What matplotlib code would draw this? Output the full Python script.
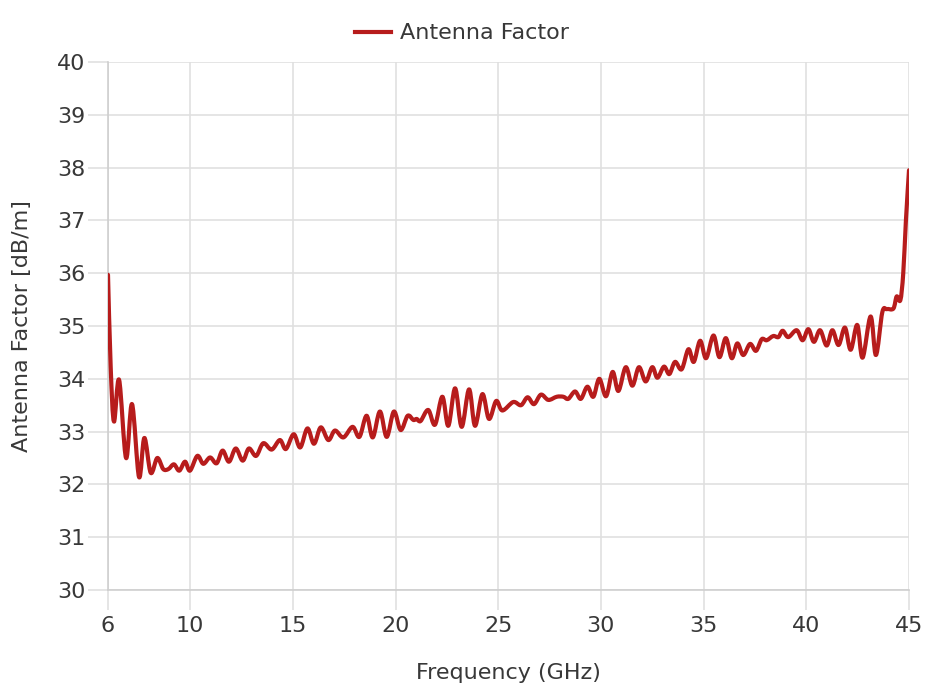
import matplotlib
matplotlib.use("Agg")
import matplotlib.pyplot as plt
from matplotlib.path import Path
from matplotlib.patches import PathPatch
from matplotlib.lines import Line2D
import numpy as np

freq_ghz = [6.0, 6.13, 6.29, 6.54, 6.88, 7.17, 7.51, 7.77, 8.08, 8.40, 8.69, 8.94,
            9.21, 9.47, 9.75, 9.99, 10.35, 10.64, 10.97, 11.29, 11.58, 11.89, 12.22,
            12.56, 12.86, 13.21, 13.56, 13.97, 14.37, 14.66, 15.04, 15.36, 15.71,
            16.03, 16.36, 16.73, 17.05, 17.46, 17.91, 18.24, 18.59, 18.89, 19.24,
            19.57, 19.92, 20.25, 20.59, 20.87, 21.03, 21.22, 21.59, 21.92, 22.28,
            22.57, 22.90, 23.22, 23.58, 23.87, 24.23, 24.55, 24.90, 25.20, 25.73,
            26.11, 26.43, 26.74, 27.08, 27.44, 27.85, 28.17, 28.41, 28.74, 29.02,
            29.34, 29.63, 29.92, 30.25, 30.57, 30.85, 31.21, 31.53, 31.85, 32.18,
            32.50, 32.75, 33.07, 33.33, 33.61, 33.93, 34.26, 34.52, 34.83, 35.12,
            35.48, 35.77, 36.08, 36.37, 36.64, 36.93, 37.26, 37.55, 37.83, 38.07,
            38.39, 38.64, 38.85, 39.12, 39.53, 39.82, 40.10, 40.37, 40.67, 40.99,
            41.27, 41.57, 41.88, 42.16, 42.48, 42.74, 43.13, 43.39, 43.70, 43.92,
            44.24, 44.40, 44.58, 44.72, 44.85, 45.0]
antenna_factor = [35.97, 34.23, 33.19, 33.98, 32.50, 33.52, 32.14, 32.88, 32.22, 32.50,
                  32.29, 32.29, 32.38, 32.26, 32.43, 32.26, 32.54, 32.39, 32.51, 32.40,
                  32.64, 32.43, 32.68, 32.45, 32.68, 32.54, 32.78, 32.66, 32.84, 32.67,
                  32.95, 32.70, 33.06, 32.77, 33.08, 32.84, 33.02, 32.89, 33.09, 32.90,
                  33.30, 32.89, 33.38, 32.90, 33.38, 33.03, 33.30, 33.22, 33.24, 33.20,
                  33.41, 33.13, 33.66, 33.11, 33.82, 33.09, 33.80, 33.11, 33.71, 33.24,
                  33.58, 33.40, 33.56, 33.50, 33.65, 33.52, 33.70, 33.60, 33.66, 33.66,
                  33.62, 33.76, 33.62, 33.85, 33.66, 34.00, 33.67, 34.13, 33.77, 34.22,
                  33.87, 34.22, 33.95, 34.22, 34.02, 34.23, 34.09, 34.32, 34.18, 34.56,
                  34.32, 34.72, 34.39, 34.82, 34.41, 34.77, 34.39, 34.67, 34.45, 34.66,
                  34.53, 34.75, 34.73, 34.81, 34.79, 34.91, 34.79, 34.92, 34.73, 34.94,
                  34.70, 34.92, 34.63, 34.92, 34.64, 34.97, 34.55, 35.02, 34.40, 35.18,
                  34.45, 35.26, 35.32, 35.33, 35.56, 35.49, 36.00, 37.00, 37.95]

x_ticks = [6, 10, 15, 20, 25, 30, 35, 40, 45]
y_ticks = [30, 31, 32, 33, 34, 35, 36, 37, 38, 39, 40]
series_name = "Antenna Factor"
x_label = "Frequency (GHz)"
y_label = "Antenna Factor [dB/m]"

LINE_COLOR = "#B71C1C"
TEXT_COLOR = "#383838"
GRID_COLOR = "#E0E0E0"
AXIS_COLOR = "#CFCFCF"
plt.rcParams['font.family'] = ['DejaVu Sans']

fig = plt.figure(figsize=(9.3, 6.96), dpi=100)
ax = fig.add_axes([108/930, 1-590/696, (909-108)/930, (590-62)/696])


def smooth_path(xs, ys, k=1.0):
    pts = np.column_stack([xs, ys]).astype(float)
    n = len(pts)
    verts = [pts[0]]
    codes = [Path.MOVETO]
    for i in range(n - 1):
        p0 = pts[i - 1] if i > 0 else pts[i]
        p1 = pts[i]
        p2 = pts[i + 1]
        p3 = pts[i + 2] if i + 2 < n else pts[i + 1]
        c1 = p1 + (p2 - p0) / 6.0 * k
        c2 = p2 - (p3 - p1) / 6.0 * k
        verts += [c1, c2, p2]
        codes += [Path.CURVE4] * 3
    return Path(verts, codes)


patch = PathPatch(smooth_path(freq_ghz, antenna_factor), facecolor='none',
                  edgecolor=LINE_COLOR, lw=3.0, capstyle='round', joinstyle='round',
                  zorder=3, clip_on=True)
ax.add_patch(patch)

ax.set_xlim(6, 45)
ax.set_ylim(30, 40)
ax.set_xticks(x_ticks)
ax.set_yticks(y_ticks)
ax.grid(True, color=GRID_COLOR, lw=1.2)
ax.set_axisbelow(True)
for name, s in ax.spines.items():
    if name in ('left', 'bottom'):
        s.set_color(AXIS_COLOR)
        s.set_linewidth(1.2)
    else:
        s.set_visible(False)
ax.tick_params(length=14.4, width=1.2, color=GRID_COLOR, labelsize=16,
               labelcolor=TEXT_COLOR)
ax.tick_params(axis='y', pad=2)
ax.tick_params(axis='x', pad=4)
ax.set_xlabel(x_label, fontsize=16, color=TEXT_COLOR, labelpad=20)
ax.set_ylabel(y_label, fontsize=16, color=TEXT_COLOR, labelpad=18)

handle = Line2D([], [], color=LINE_COLOR, lw=3.0)
fig.legend([handle], [series_name], loc='upper center', bbox_to_anchor=(0.497, 0.995),
           frameon=False, fontsize=16, handlelength=1.6, handletextpad=0.4,
           labelcolor=TEXT_COLOR)

fig.savefig("out.png", dpi=100)
